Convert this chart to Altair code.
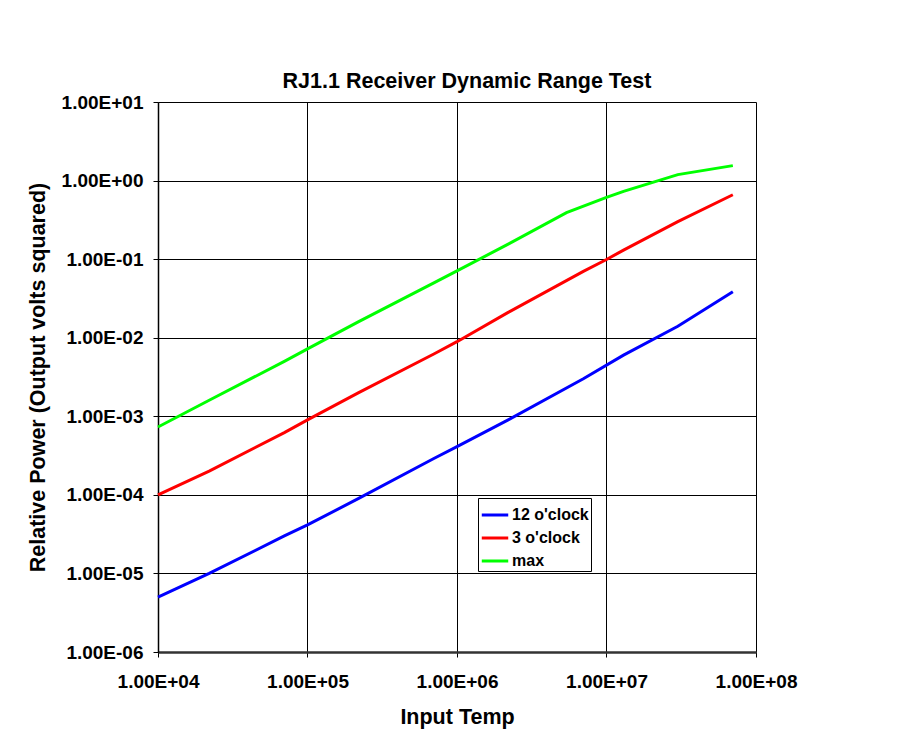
import altair as alt
import pandas as pd

# ---- data ----
series_names = ["12 o'clock", "3 o'clock", "max"]
series_colors = ["#0000FF", "#FF0000", "#00FF00"]

temp_12 = [1e4, 2.2e4, 7e4, 1e5, 2.2e5, 7e5, 1e6, 2.2e6, 7e6, 1.3e7, 3e7, 7e7]
power_12 = [5.0e-6, 1.0e-5, 3.0e-5, 4.15e-5, 9.0e-5, 2.9e-4, 4.1e-4, 9.0e-4, 3.0e-3, 6.0e-3, 1.4e-2, 3.85e-2]

temp_3 = [1e4, 2.2e4, 7e4, 1e5, 2.2e5, 7e5, 1e6, 2.2e6, 7e6, 1e7, 1.3e7, 3e7, 7e7]
power_3 = [1.0e-4, 2.0e-4, 6.2e-4, 9.0e-4, 2.0e-3, 6.2e-3, 8.9e-3, 2.1e-2, 7.0e-2, 9.9e-2, 0.13, 0.30, 0.66]

temp_max = [1e4, 2.2e4, 7e4, 1e5, 2.2e5, 7e5, 1e6, 2.2e6, 5.4e6, 1e7, 1.3e7, 3e7, 7e7]
power_max = [7.3e-4, 1.6e-3, 5.0e-3, 7.2e-3, 1.6e-2, 5.0e-2, 7.1e-2, 0.155, 0.39, 0.61, 0.73, 1.19, 1.55]

x_ticks = [1e4, 1e5, 1e6, 1e7, 1e8]
y_ticks = [1e-6, 1e-5, 1e-4, 1e-3, 1e-2, 1e-1, 1e0, 1e1]

chart_title = "RJ1.1 Receiver Dynamic Range Test"
x_title = "Input Temp"
y_title = "Relative Power (Output volts squared)"

rows = []
for name, xs, ys in zip(series_names, [temp_12, temp_3, temp_max], [power_12, power_3, power_max]):
    for xv, yv in zip(xs, ys):
        rows.append({"series": name, "temp": xv, "power": yv})
df = pd.DataFrame(rows)

FONT = "Liberation Sans"

exp_expr = "round(log(datum.value)/LN10)"
label_expr = ("'1.00E' + (" + exp_expr + " < 0 ? '-' : '+') + (abs(" + exp_expr +
              ") < 10 ? '0' : '') + abs(" + exp_expr + ")")

chart = alt.Chart(df).mark_line(strokeWidth=3).encode(
    x=alt.X("temp:Q",
            scale=alt.Scale(type="log", domain=[1e4, 1e8], nice=False),
            axis=alt.Axis(values=x_ticks, labelExpr=label_expr, title=x_title,
                          tickSize=5, labelPadding=15, domainColor="#333333", domainWidth=2.5,
                          titleY=71, titleBaseline="alphabetic", labelFlush=False)),
    y=alt.Y("power:Q",
            scale=alt.Scale(type="log", domain=[1e-6, 1e1], nice=False),
            axis=alt.Axis(values=y_ticks, labelExpr=label_expr, title=y_title,
                          tickSize=5, labelPadding=10, domainColor="#000000", domainWidth=1.5,
                          titleX=-120, titleY=275, titleAngle=270, titleBaseline="middle",
                          titleAlign="center", labelFlush=False)),
    color=alt.Color("series:N",
                    scale=alt.Scale(domain=series_names, range=series_colors),
                    sort=series_names,
                    legend=alt.Legend(title=None, orient="none", legendX=320, legendY=396,
                                      symbolType="stroke", symbolSize=700, symbolStrokeWidth=3,
                                      labelFont=FONT, labelFontSize=16, labelFontWeight="bold",
                                      labelColor="#000000", padding=2, rowPadding=0,
                                      labelOffset=2, strokeColor="#000000", fillColor="#FFFFFF",
                                      cornerRadius=0)),
).properties(
    width=598,
    height=550,
    background="#FFFFFF",
    title=alt.TitleParams(chart_title, font=FONT, fontSize=21.5, fontWeight="bold",
                          color="#000000", anchor="middle", frame="group", dx=10, offset=1),
    autosize=alt.AutoSizeParams(type="none"),
    padding={"left": 150, "top": 94, "right": 150, "bottom": 82},
).configure_axis(
    labelFont=FONT, labelFontSize=19, labelFontWeight="bold", labelColor="#000000",
    titleFont=FONT, titleFontSize=21.5, titleFontWeight="bold", titleColor="#000000",
    gridColor="#000000", gridOpacity=1, gridWidth=1, tickColor="#000000", tickWidth=1,
).configure_view(strokeWidth=0)

chart.save("out.html", embed_options={"renderer": "svg", "actions": False})
